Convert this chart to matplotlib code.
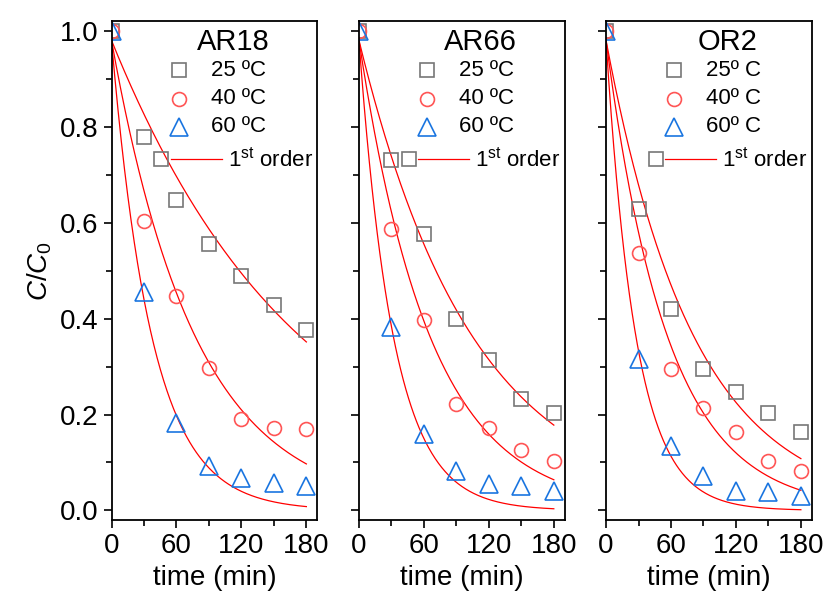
import matplotlib.pyplot as plt
import numpy as np

plt.rcParams['font.family'] = 'Liberation Sans'
plt.rcParams['mathtext.fontset'] = 'custom'
plt.rcParams['mathtext.rm'] = 'Liberation Sans'
plt.rcParams['mathtext.it'] = 'Liberation Sans:italic'

# data (C/C0 vs time)
time = np.array([0, 30, 60, 90, 120, 150, 180])
dyes = ['AR18', 'AR66', 'OR2']
temp_labels = [['25 ºC', '40 ºC', '60 ºC'],
               ['25 ºC', '40 ºC', '60 ºC'],
               ['25º C', '40º C', '60º C']]

ar18_25 = [1.0, 0.778, 0.647, 0.556, 0.489, 0.429, 0.376]
ar18_40 = [1.0, 0.603, 0.447, 0.296, 0.190, 0.172, 0.170]
ar18_60 = [1.0, 0.455, 0.183, 0.093, 0.067, 0.058, 0.051]

ar66_25 = [1.0, 0.730, 0.577, 0.399, 0.314, 0.232, 0.204]
ar66_40 = [1.0, 0.586, 0.398, 0.221, 0.171, 0.126, 0.103]
ar66_60 = [1.0, 0.383, 0.159, 0.083, 0.056, 0.052, 0.040]

or2_25 = [1.0, 0.628, 0.420, 0.295, 0.247, 0.203, 0.163]
or2_40 = [1.0, 0.536, 0.295, 0.214, 0.163, 0.104, 0.083]
or2_60 = [1.0, 0.315, 0.135, 0.072, 0.040, 0.038, 0.031]

# first order fit: C/C0 = a*exp(-k*t)
fit_a = 0.98
k_ar18 = [0.0057, 0.01285, 0.0267]
k_ar66 = [0.00948, 0.01516, 0.0313]
k_or2 = [0.01225, 0.0175, 0.036]

series = [[ar18_25, ar18_40, ar18_60],
          [ar66_25, ar66_40, ar66_60],
          [or2_25, or2_40, or2_60]]
rates = [k_ar18, k_ar66, k_or2]

markers = ['s', 'o', '^']
msizes = [9.5, 10, 12.5]
mcolors = ['#777777', '#ff5555', '#1a75e0']

fig = plt.figure(figsize=(8.26, 6.04), dpi=100)
lefts = [0.135, 0.4346, 0.7337]
t_fit = np.linspace(0, 180, 300)

for p in range(3):
    ax = fig.add_axes([lefts[p], 0.139, 0.249, 0.826])
    for i in range(3):
        ax.plot(t_fit, fit_a * np.exp(-rates[p][i] * t_fit), color='red', lw=0.9)
    for i in range(3):
        ax.plot(time, series[p][i], ls='none', marker=markers[i], ms=msizes[i],
                mfc='none', mec=mcolors[i], mew=1.2)

    ax.set_xlim(0, 190)
    ax.set_ylim(-0.02, 1.02)
    ax.set_xticks([0, 60, 120, 180])
    ax.set_xticks([30, 90, 150], minor=True)
    ax.set_yticks([0, 0.2, 0.4, 0.6, 0.8, 1.0])
    ax.set_yticks([0.1, 0.3, 0.5, 0.7, 0.9], minor=True)
    ax.tick_params(which='major', direction='out', length=6, width=1.2, labelsize=20)
    ax.tick_params(which='minor', direction='out', length=4, width=1.2)
    for s in ax.spines.values():
        s.set_linewidth(1.3)
    if p == 0:
        ax.set_yticklabels(['0.0', '0.2', '0.4', '0.6', '0.8', '1.0'])
        ax.set_ylabel('$C/C_0$', fontsize=20, labelpad=4)
    else:
        ax.set_yticklabels([])
    ax.set_xlabel('time (min)', fontsize=20, labelpad=4)

    # legend drawn by hand
    ax.text(0.59, 0.958, dyes[p], transform=ax.transAxes, fontsize=21,
            ha='center', va='center')
    rows = [0.902, 0.844, 0.788]
    for i in range(3):
        ax.plot([0.33], [rows[i]], transform=ax.transAxes, ls='none',
                marker=markers[i], ms=msizes[i], mfc='none', mec=mcolors[i], mew=1.2)
        ax.text(0.485, rows[i], temp_labels[p][i], transform=ax.transAxes,
                fontsize=16, ha='left', va='center')
    ax.plot([0.243], [0.723], transform=ax.transAxes, ls='none', marker='s',
            ms=msizes[0], mfc='none', mec=mcolors[0], mew=1.2)
    ax.plot([0.288, 0.537], [0.723, 0.723], transform=ax.transAxes, color='red', lw=0.9)
    ax.text(0.565, 0.723, '1$^{\\mathrm{st}}$ order', transform=ax.transAxes,
            fontsize=16, ha='left', va='center')

fig.savefig('out.png', dpi=100)
